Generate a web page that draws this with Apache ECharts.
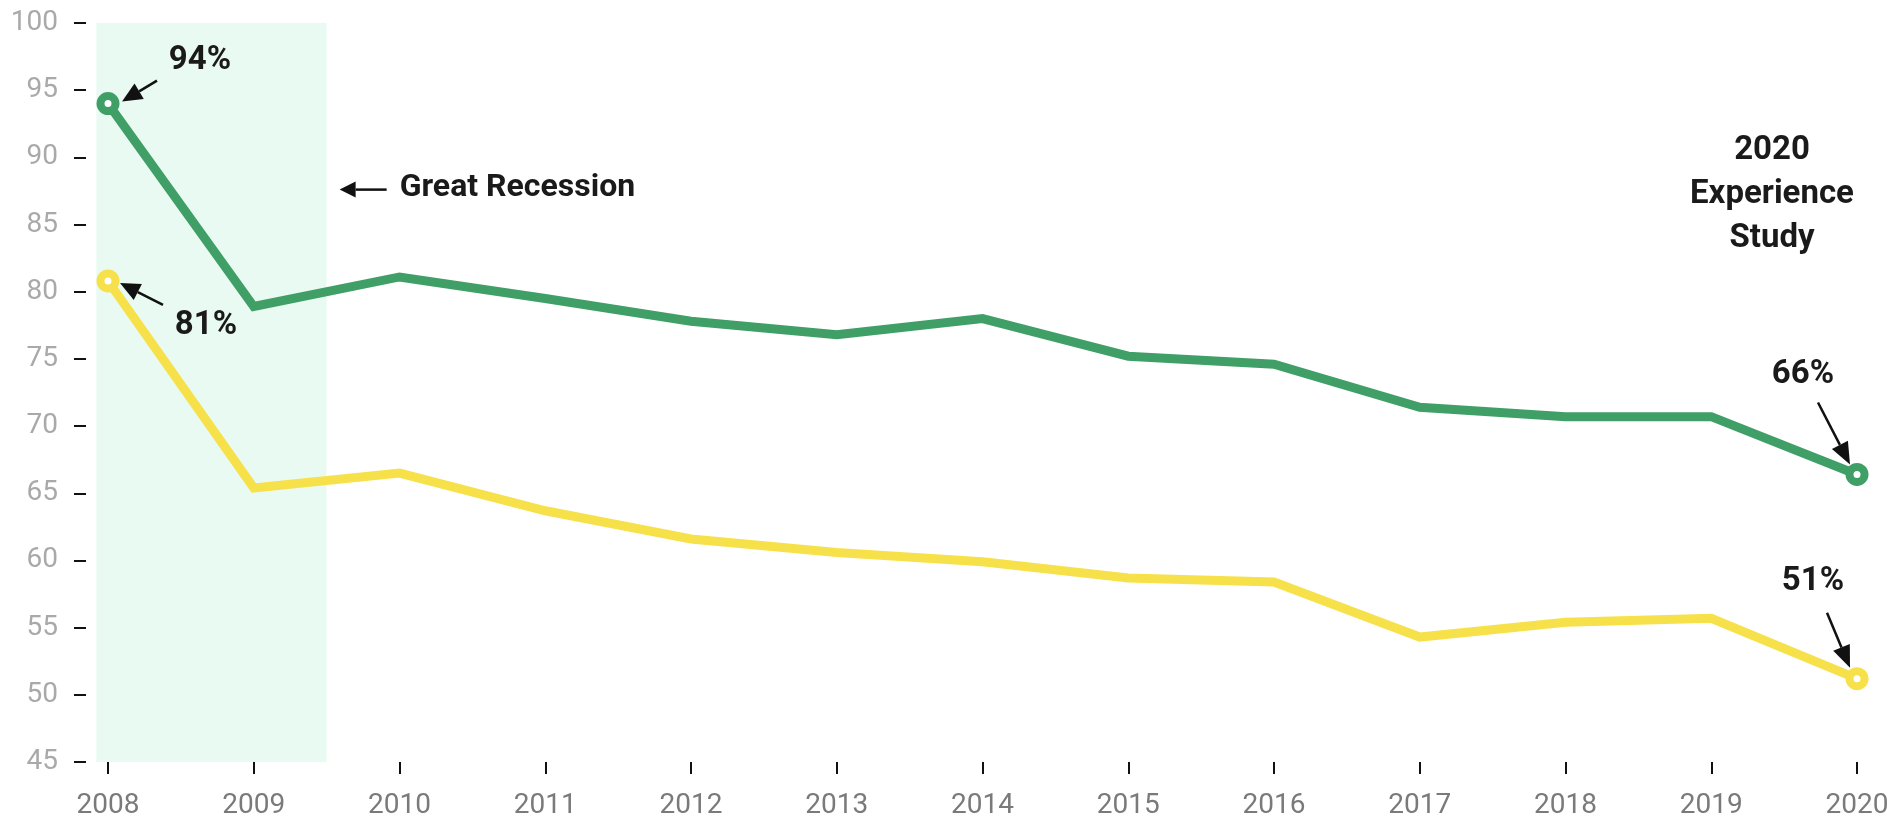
<!DOCTYPE html>
<html>
<head>
<meta charset="utf-8">
<script src="https://cdn.jsdelivr.net/npm/echarts@6/dist/echarts.min.js"></script>
<style>
  html, body { margin: 0; padding: 0; background: #fff; }
  #chart { width: 1892px; height: 822px; }
</style>
</head>
<body>
<div id="chart"></div>
<script>
// data
const years = [2008, 2009, 2010, 2011, 2012, 2013, 2014, 2015, 2016, 2017, 2018, 2019, 2020];
const greenValues = [94.0, 78.9, 81.1, 79.5, 77.8, 76.8, 78.0, 75.2, 74.6, 71.4, 70.7, 70.7, 66.4];
const yellowValues = [80.8, 65.4, 66.5, 63.7, 61.6, 60.6, 59.9, 58.7, 58.4, 54.3, 55.4, 55.7, 51.2];
const yMin = 45, yMax = 100, yStep = 5;
const recession = [2007.92, 2009.5];

const GREEN = '#409f66';
const YELLOW = '#f7e14a';
const INK = '#1a1a1a';

const chart = echarts.init(document.getElementById('chart'));

// only the first and the last point get a ring marker
const buildData = (values, color) => values.map((v, i) => {
  const item = { value: [years[i], v] };
  if (i === 0 || i === values.length - 1) {
    item.symbol = 'circle';
    item.symbolSize = 15;
    item.itemStyle = { color: '#fff', borderColor: color, borderWidth: 8 };
  } else {
    item.symbol = 'none';
  }
  return item;
});

const lineSeries = (name, values, color) => ({
  name: name,
  type: 'line',
  data: buildData(values, color),
  showSymbol: true,
  symbol: 'circle',
  lineStyle: { color: color, width: 9, join: 'miter' },
  itemStyle: { color: color },
  emphasis: { disabled: true },
  z: 3
});

chart.setOption({
  animation: false,
  backgroundColor: '#fff',
  grid: { left: 108, right: 35, top: 23, bottom: 60, containLabel: false },
  xAxis: {
    type: 'value',
    min: years[0],
    max: years[years.length - 1],
    interval: 1,
    splitLine: { show: false },
    axisLine: { show: false },
    axisTick: { show: true, length: 12, lineStyle: { color: '#111', width: 2 } },
    axisLabel: {
      color: '#7a7a7a',
      fontSize: 28,
      fontFamily: 'Roboto',
      margin: 30,
      formatter: v => String(v)
    }
  },
  yAxis: {
    type: 'value',
    min: yMin,
    max: yMax,
    interval: yStep,
    offset: 22,
    splitLine: { show: false },
    axisLine: { show: false },
    axisTick: { show: true, length: 12, lineStyle: { color: '#111', width: 2 } },
    axisLabel: { color: '#a9a9a9', fontSize: 28, fontFamily: 'Roboto', margin: 28 }
  },
  series: [
    lineSeries('green', greenValues, GREEN),
    lineSeries('yellow', yellowValues, YELLOW)
  ]
});

// annotations, anchored to the data through the axes
const px = (x, y) => chart.convertToPixel({ gridIndex: 0 }, [x, y]);

const arrow = (x1, y1, x2, y2, len, half, width) => {
  const dx = x2 - x1, dy = y2 - y1;
  const d = Math.sqrt(dx * dx + dy * dy);
  const ux = dx / d, uy = dy / d;
  const bx = x2 - ux * len, by = y2 - uy * len;
  return {
    type: 'group',
    z: 10,
    children: [
      { type: 'line', shape: { x1: x1, y1: y1, x2: bx, y2: by }, style: { stroke: '#111', lineWidth: width } },
      { type: 'polygon', shape: { points: [[x2, y2], [bx - uy * half, by + ux * half], [bx + uy * half, by - ux * half]] }, style: { fill: '#111' } }
    ]
  };
};

const label = (text, x, y, size) => ({
  type: 'text',
  z: 10,
  style: {
    text: text, x: x, y: y,
    fill: INK,
    font: 'bold ' + size + 'px Roboto',
    align: 'center',
    verticalAlign: 'middle'
  }
});

const last = years.length - 1;
const g0 = px(years[0], greenValues[0]);
const y0 = px(years[0], yellowValues[0]);
const gN = px(years[last], greenValues[last]);
const yN = px(years[last], yellowValues[last]);
const bandA = px(recession[0], yMax);
const bandB = px(recession[1], yMin);
const rec = px(recession[1], 87.6);

const graphics = [
  {
    type: 'rect',
    z: -10,
    shape: { x: bandA[0], y: bandA[1], width: bandB[0] - bandA[0], height: bandB[1] - bandA[1] },
    style: { fill: '#e9faf2' }
  },
  label('94%', g0[0] + 92, g0[1] - 43, 33),
  arrow(g0[0] + 49, g0[1] - 23, g0[0] + 14, g0[1] - 2, 20, 9, 2.5),
  label('81%', y0[0] + 98, y0[1] + 45, 33),
  arrow(y0[0] + 55, y0[1] + 24, y0[0] + 12, y0[1] + 2, 20, 9, 2.5),
  label('66%', gN[0] - 54, gN[1] - 100, 33),
  arrow(gN[0] - 39, gN[1] - 72, gN[0] - 7, gN[1] - 10, 22, 9, 2.5),
  label('51%', yN[0] - 44, yN[1] - 97, 33),
  arrow(yN[0] - 30, yN[1] - 66, yN[0] - 7, yN[1] - 11, 22, 9, 2.5),
  arrow(rec[0] + 60, rec[1], rec[0] + 13, rec[1], 16, 8, 2.5),
  {
    type: 'text',
    z: 10,
    style: {
      text: 'Great Recession', x: rec[0] + 73, y: rec[1] - 2,
      fill: INK, font: 'bold 32px Roboto', align: 'left', verticalAlign: 'middle'
    }
  },
  {
    type: 'text',
    z: 10,
    style: {
      text: '2020\nExperience\nStudy', x: gN[0] - 85, y: gN[1] - 280,
      fill: INK, font: 'bold 33px Roboto', align: 'center', verticalAlign: 'middle', lineHeight: 44
    }
  }
];

chart.setOption({ graphic: graphics });
</script>
</body>
</html>
